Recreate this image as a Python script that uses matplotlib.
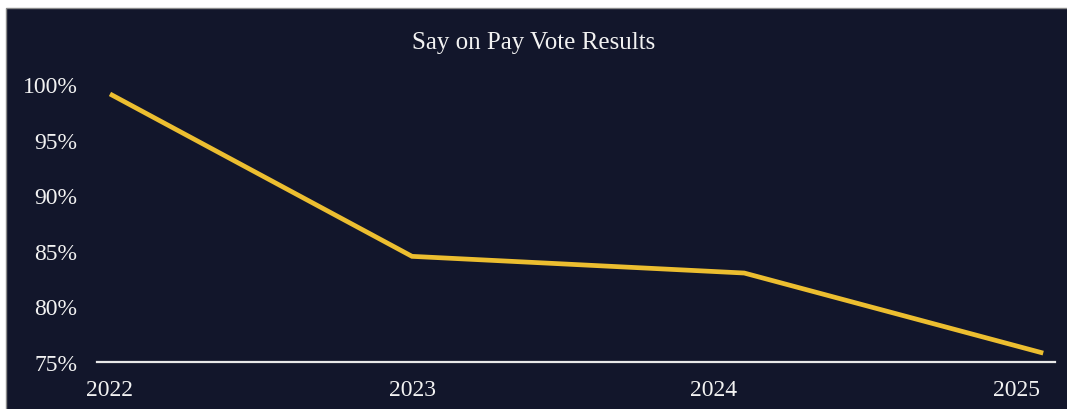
import matplotlib
matplotlib.use("Agg")
import matplotlib.pyplot as plt
from matplotlib.patches import Rectangle
from matplotlib.ticker import FuncFormatter

# vote results (meeting dates as fractional years)
vote_dates = [2022.0, 2023.0, 2024.1, 2025.09]
approval_pct = [99.1, 84.5, 83.0, 75.8]
year_ticks = [2022, 2023, 2024, 2025]
pct_ticks = [75, 80, 85, 90, 95, 100]

BG = "#12162b"
GOLD = "#ecbe30"
TEXT = "#f2f2f2"

plt.rcParams["font.family"] = ["Liberation Serif", "DejaVu Serif"]

fig = plt.figure(figsize=(10.67, 4.10), dpi=100, facecolor="white")
fig.patches.append(Rectangle((6 / 1067, -0.01), 1.01 - 6 / 1067, 1.01 - 9 / 410,
                             transform=fig.transFigure, facecolor=BG,
                             edgecolor="#8a8a8a", linewidth=1.0, zorder=-5))

ax = fig.add_axes([97 / 1067, 47 / 410, (1055 - 97) / 1067, (363 - 79.4) / 410])
ax.patch.set_alpha(0)

ax.plot(vote_dates, approval_pct, color=GOLD, linewidth=3.4, solid_capstyle="butt",
        solid_joinstyle="miter")

ax.set_xlim(2021.957, 2025.129)
ax.set_ylim(75, 100.5)
ax.set_xticks(year_ticks)
ax.set_xticklabels([str(y) for y in year_ticks])
ax.set_yticks(pct_ticks)
ax.yaxis.set_major_formatter(FuncFormatter(lambda v, _: f"{v:.0f}%"))

for side in ["top", "right", "left"]:
    ax.spines[side].set_visible(False)
ax.spines["bottom"].set_color("#e8e8e8")
ax.spines["bottom"].set_linewidth(1.6)

ax.tick_params(axis="both", length=0, colors=TEXT, labelsize=17)
ax.tick_params(axis="y", pad=14)
ax.tick_params(axis="x", pad=12)

fig.text(0.5, 1 - 43 / 410, "Say on Pay Vote Results", ha="center", va="center",
         color=TEXT, fontsize=18)

fig.savefig("out.png", dpi=100, facecolor=fig.get_facecolor())
